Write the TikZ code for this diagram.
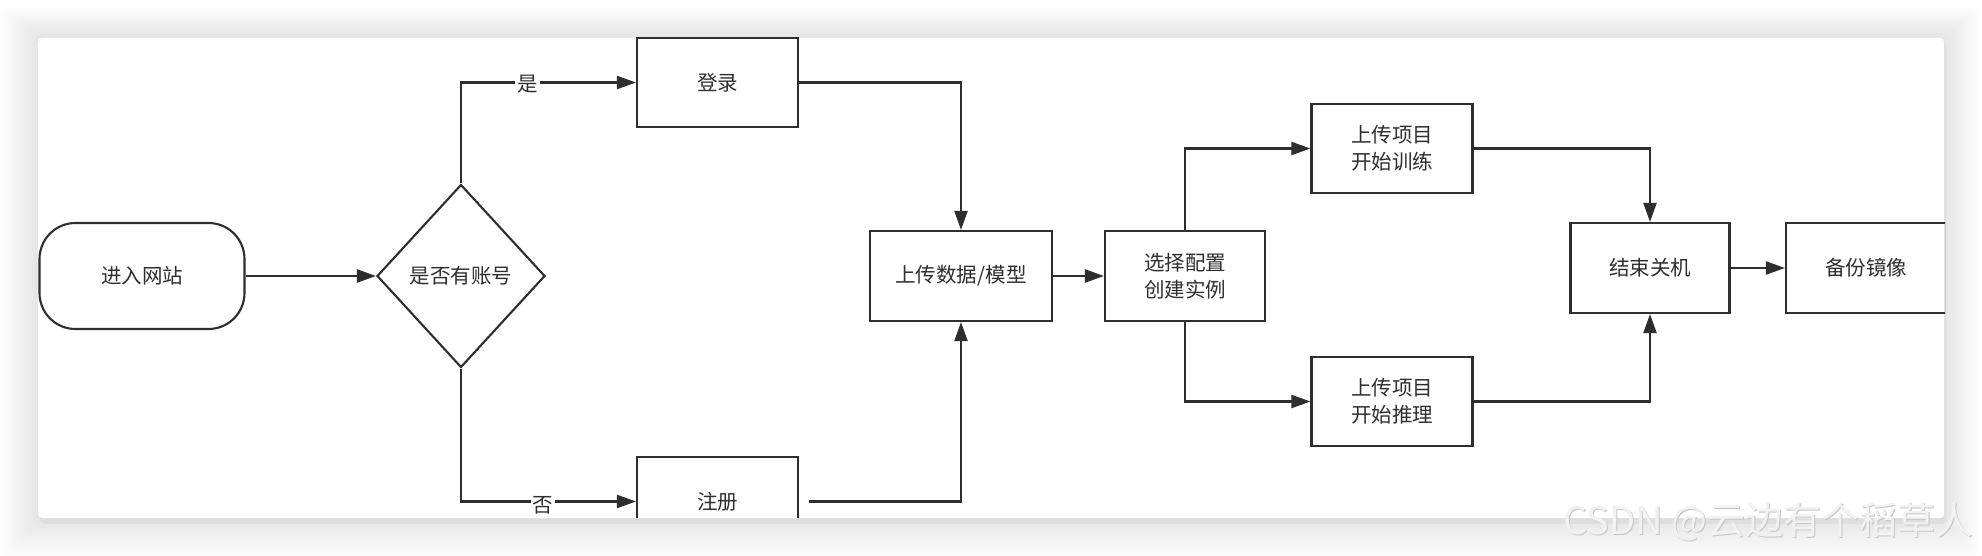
\documentclass[tikz,border=0pt]{standalone}
\usepackage{fontspec}
\newfontfamily\cjk{Noto Sans CJK SC}
\usetikzlibrary{shapes.geometric,arrows.meta}
\definecolor{ln}{HTML}{2E2E2E}
\definecolor{txt}{HTML}{2E2E2E}
\begin{document}
\begin{tikzpicture}[x=1pt,y=-1pt,
  every node/.style={font=\cjk\fontsize{20.5}{27}\selectfont, text=txt},
  stepbox/.style={draw=ln, line width=2.1pt, minimum width=161pt, minimum height=89pt, inner sep=0pt, align=center},
  conn/.style={draw=ln, line width=2.1pt, -{Triangle[length=19pt,width=13pt]}},
  lbl/.style={fill=white, inner sep=2pt}]
\useasboundingbox (0,0) rectangle (1982,556);
\fill[white] (0,0) rectangle (1982,556);
\foreach \i in {1,...,26}{
  \fill[black,opacity=0.0032,rounded corners=4pt] (38-1.4*\i,38-1.2*\i) rectangle (1944+1.4*\i,518+1.6*\i);
}
\fill[black,opacity=0.03,rounded corners=4pt] (40,40) rectangle (1946,524);
\fill[white,rounded corners=4pt] (38,38) rectangle (1944,518);
\begin{scope}
\clip[rounded corners=4pt] (38,36.8) rectangle (1945.2,518);
\node[draw=ln, line width=2.1pt, rounded corners=36pt, minimum width=205pt, minimum height=106pt, inner sep=0pt] (start) at (142,276) {进入网站};
\node[draw=ln, line width=2.1pt, shape=diamond, minimum width=168pt, minimum height=183pt, inner sep=0pt] (dec) at (461,276) {是否有账号};
\node[stepbox] (login) at (717.5,82.5) {登录};
\node[stepbox] (reg) at (717.5,501.5) {注册};
\node[stepbox, minimum width=182pt, minimum height=90pt] (upl) at (961,276) {上传数据/模型};
\node[stepbox, minimum width=160pt, minimum height=90pt] (sel) at (1185,276) {选择配置\\创建实例};
\node[stepbox] (train) at (1392,148.5) {上传项目\\开始训练};
\node[stepbox] (infer) at (1392,401.5) {上传项目\\开始推理};
\node[stepbox, minimum width=159pt, minimum height=90pt] (end) at (1650,268) {结束关机};
\node[stepbox, minimum width=160pt, minimum height=90pt] (backup) at (1866,268) {备份镜像};

\draw[conn] (start) -- (dec);
\draw[conn] (dec.north) |- node[lbl, pos=0.69, yshift=-2pt]{是} (login);
\draw[conn] (dec.south) |- node[lbl, pos=0.735, yshift=-4pt]{否} (reg);
\draw[conn] (login) -| (upl);
\draw[conn, shorten <=10pt] (reg) -| (upl);
\draw[conn] (upl) -- (sel);
\draw[conn] (sel) |- (train);
\draw[conn] (sel) |- (infer);
\draw[conn] (train) -| (end);
\draw[conn] (infer) -| (end);
\draw[conn] (end) -- (backup);
\end{scope}
\node[anchor=east, font=\cjk\fontsize{38}{40}\selectfont, text=gray!45] (wm0) at (1978.2,523.2) {CSDN @云边有个稻草人};
\node[anchor=east, font=\cjk\fontsize{38}{40}\selectfont, text=gray!10] (wm) at (1977,522) {CSDN @云边有个稻草人};
\end{tikzpicture}
\end{document}
